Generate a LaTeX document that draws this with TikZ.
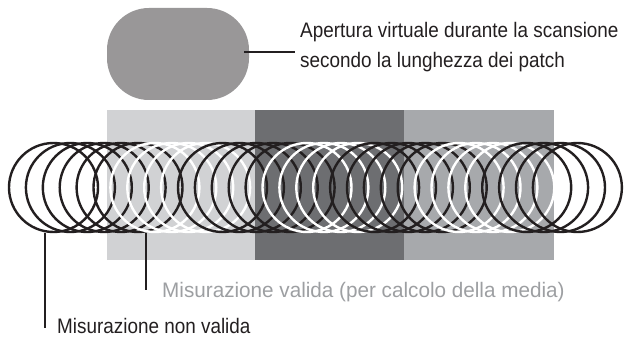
\documentclass[tikz,border=0pt]{standalone}
\usepackage{fontspec}
\setmainfont[FakeStretch=0.9]{Liberation Sans}
\newfontfamily\widefont[FakeStretch=0.985]{Liberation Sans}
\usepackage{tikz}
\usetikzlibrary{positioning, calc}

\definecolor{ink}{HTML}{231F20}
\definecolor{patchlight}{HTML}{D1D2D4}
\definecolor{patchdark}{HTML}{6D6E71}
\definecolor{patchmid}{HTML}{A7A9AC}
\definecolor{apgray}{HTML}{999798}
\definecolor{labgray}{HTML}{9D9FA2}

\begin{document}
\begin{tikzpicture}[
  x=1pt, y=-1pt,
  every node/.style={font=\fontsize{21}{30}\selectfont},
  aperture/.style={fill=apgray, rounded corners=42pt, minimum width=142pt, minimum height=92pt, inner sep=0pt},
  ring/.style={circle, draw=ink, line width=2.4pt, minimum size=89pt, inner sep=0pt},
  leader/.style={draw=ink, line width=2pt},
  label/.style={inner sep=0pt, align=left, text=ink},
]
\useasboundingbox (0,0) rectangle (625,337);

% Patches
\fill[patchlight] (107,110) rectangle (255,260);
\fill[patchdark] (255,110) rectangle (404,260);
\fill[patchmid] (404,110) rectangle (554,260);

% Virtual aperture
\node[aperture] (ap) at (178,54) {};
\coordinate (apend) at (295,52);
\draw[leader] ($(ap.east)+(-5,-2)$) -- (apend);
\node[label, anchor=west] (aptext) at (300,47) {Apertura virtuale durante la scansione\\secondo la lunghezza dei patch};

% Scanning positions
\foreach \k in {0,...,31} {
  \pgfmathtruncatemacro\valid{(\k>5)*(\k<10)+(\k>14)*(\k<19)+(\k>23)*(\k<28)}
  \ifnum\valid=1 \def\col{white}\else\def\col{ink}\fi
  \node[ring, draw=\col] (c\k) at (53.5+\k*16.9, 187.5) {};
}

% Labels
\coordinate (nvtop) at (45,233);
\coordinate (nvend) at (45,328);
\coordinate (vtop) at (146,233);
\coordinate (vend) at (146,290);
\draw[leader] (nvtop) -- (nvend);
\draw[leader] (vtop) -- (vend);
\node[label, anchor=base west] (nvtext) at (57,333) {Misurazione non valida};
\node[label, anchor=base west, text=labgray] (vtext) at (162,298) {\widefont Misurazione valida (per calcolo della media)};

\end{tikzpicture}
\end{document}
